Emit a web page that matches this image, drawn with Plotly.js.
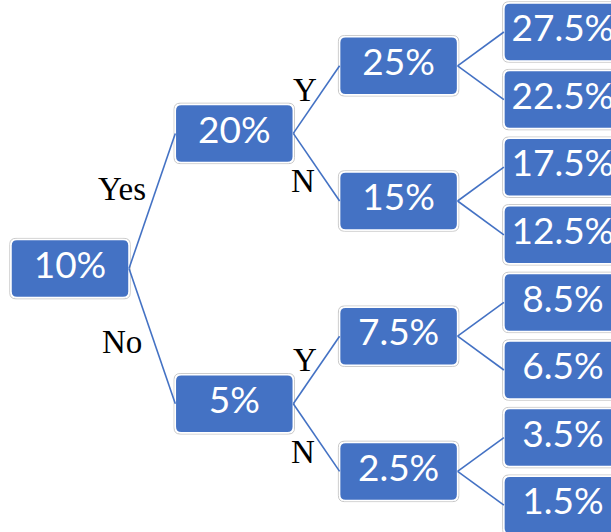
<!DOCTYPE html>
<html>
<head>
<meta charset="utf-8">
<script src="https://cdn.plot.ly/plotly-3.0.1.min.js"></script>
<style>html,body{margin:0;padding:0;background:#fff;}#chart{width:611px;height:532px;}</style>
</head>
<body>
<div id="chart"></div>
<script>
// ---- data ----
const root = ["10%"];
const level1 = ["20%", "5%"];
const level2 = ["25%", "15%", "7.5%", "2.5%"];
const level3 = ["27.5%", "22.5%", "17.5%", "12.5%", "8.5%", "6.5%", "3.5%", "1.5%"];
const level1Branch = ["Yes", "No"];
const level2Branch = ["Y", "N", "Y", "N"];

// ---- layout helpers ----
const W = 611, H = 532;
const pxX = 164.3, pxY = 67.6;          // pixels per unit
const x0px = 70, y0px = 32;             // pixel position of level 0 / leaf slot 0
const boxW = 118, boxH = 58, rad = 6;   // box size in pixels
const hw = boxW / 2 / pxX, hh = boxH / 2 / pxY;
const rx = rad / pxX, ry = rad / pxY;

const levels = [root, level1, level2, level3];
const ys = [];
ys[3] = level3.map((_, i) => i);
for (let L = 2; L >= 0; L--) {
  ys[L] = levels[L].map((_, j) => (ys[L + 1][2 * j] + ys[L + 1][2 * j + 1]) / 2);
}

function rrect(cx, cy, ex, ey) {
  const l = cx - hw - ex, r = cx + hw + ex, t = cy - hh - ey, b = cy + hh + ey;
  return `M ${l + rx},${t} L ${r - rx},${t} Q ${r},${t} ${r},${t + ry} L ${r},${b - ry} Q ${r},${b} ${r - rx},${b} L ${l + rx},${b} Q ${l},${b} ${l},${b - ry} L ${l},${t + ry} Q ${l},${t} ${l + rx},${t} Z`;
}

const shapes = [];
const tx = [], ty = [], tt = [];
levels.forEach((arr, L) => {
  arr.forEach((lab, j) => {
    const cx = L, cy = ys[L][j];
    shapes.push({type: 'path', path: rrect(cx, cy, 1.2 / pxX, 1.2 / pxY), xref: 'x', yref: 'y',
      line: {color: '#c8c8c8', width: 1}, fillcolor: 'rgba(0,0,0,0)', layer: 'below'});
    shapes.push({type: 'path', path: rrect(cx, cy, 0, 0), xref: 'x', yref: 'y',
      line: {color: '#ffffff', width: 1.5}, fillcolor: '#4472C4', layer: 'below'});
    tx.push(cx); ty.push(cy); tt.push(lab);
  });
});

// edges
const lx = [], ly = [];
const annotations = [];
const branchLabels = [level1Branch, level2Branch];
const offs = [
  [{dx: -30, dy: 12}, {dx: -30, dy: -6}],
  [{dx: -11, dy: 10}, {dx: -13, dy: -14}]
];
for (let L = 0; L < 3; L++) {
  levels[L].forEach((_, j) => {
    [2 * j, 2 * j + 1].forEach((c, k) => {
      const xa = L + hw, ya = ys[L][j], xb = L + 1 - hw, yb = ys[L + 1][c];
      lx.push(xa, xb, null); ly.push(ya, yb, null);
      if (L < 2) {
        const o = offs[L][k];
        annotations.push({x: (xa + xb) / 2, y: (ya + yb) / 2, xref: 'x', yref: 'y',
          text: branchLabels[L][c], showarrow: false, xshift: o.dx, yshift: o.dy,
          font: {family: 'Liberation Serif, Times New Roman, serif', size: 33, color: '#000'}});
      }
    });
  });
}

const traces = [
  {x: lx, y: ly, mode: 'lines', line: {color: '#4472C4', width: 1.6}, hoverinfo: 'skip', showlegend: false},
  {x: tx, y: ty, text: tt, mode: 'text', textposition: 'middle center',
   textfont: {family: 'Lato, Open Sans, sans-serif', size: 37, color: '#ffffff'}, hoverinfo: 'skip', showlegend: false}
];

const layout = {
  width: W, height: H,
  margin: {l: 0, r: 0, t: 0, b: 0},
  paper_bgcolor: '#fff', plot_bgcolor: '#fff',
  xaxis: {range: [-x0px / pxX, (W - x0px) / pxX], visible: false, fixedrange: true},
  yaxis: {range: [(H - y0px) / pxY, -y0px / pxY], visible: false, fixedrange: true},
  shapes: shapes,
  annotations: annotations,
  showlegend: false
};
Plotly.newPlot('chart', traces, layout, {displayModeBar: false, staticPlot: true});
</script>
</body>
</html>
